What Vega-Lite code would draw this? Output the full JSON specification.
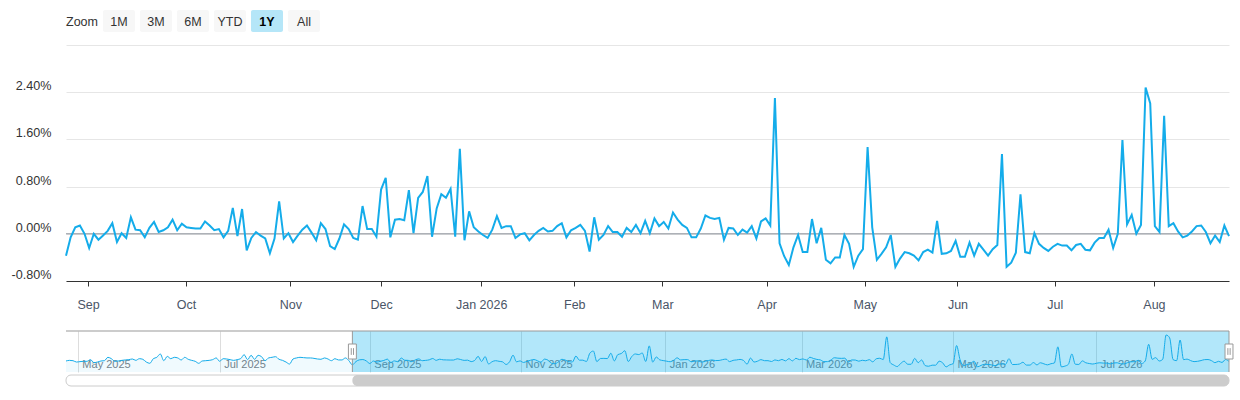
{
  "$schema": "https://vega.github.io/schema/vega-lite/v6.json",
  "padding": {"left": 11, "top": 10, "right": 6, "bottom": 10},
  "config": {
    "font": "Liberation Sans",
    "view": {"stroke": null},
    "axis": {"labelFont": "Liberation Sans", "titleFont": "Liberation Sans"}
  },
  "datasets": {
    "zoomButtons": [
      {"label": "Zoom", "selected": false},
      {"label": "1M", "selected": false},
      {"label": "3M", "selected": false},
      {"label": "6M", "selected": false},
      {"label": "YTD", "selected": false},
      {"label": "1Y", "selected": true},
      {"label": "All", "selected": false}
    ],
    "plotLines": [{"level": 0}],
    "returns": [
      {"day": -82, "ret": 0.0}, {"day": -81, "ret": 0.06}, {"day": -80, "ret": 0.03}, {"day": -79, "ret": -0.1},
      {"day": -78, "ret": -0.06}, {"day": -77, "ret": -0.03}, {"day": -76, "ret": -0.03}, {"day": -75, "ret": 0.13},
      {"day": -74, "ret": -0.16}, {"day": -73, "ret": -0.1}, {"day": -72, "ret": 0.0}, {"day": -71, "ret": 0.03},
      {"day": -70, "ret": 0.35}, {"day": -69, "ret": 0.22}, {"day": -68, "ret": -0.03}, {"day": -67, "ret": 0.0},
      {"day": -66, "ret": 0.06}, {"day": -65, "ret": 0.1}, {"day": -64, "ret": 0.13}, {"day": -63, "ret": 0.19},
      {"day": -62, "ret": 0.06}, {"day": -61, "ret": 0.22}, {"day": -60, "ret": 0.16}, {"day": -59, "ret": -0.1},
      {"day": -58, "ret": -0.22}, {"day": -57, "ret": 0.22}, {"day": -56, "ret": 0.35}, {"day": -55, "ret": 0.67},
      {"day": -54, "ret": 0.03}, {"day": -53, "ret": 0.44}, {"day": -52, "ret": 0.22}, {"day": -51, "ret": 0.35},
      {"day": -50, "ret": 0.29}, {"day": -49, "ret": 0.1}, {"day": -48, "ret": 0.35}, {"day": -47, "ret": 0.16},
      {"day": -46, "ret": 0.06}, {"day": -45, "ret": -0.03}, {"day": -44, "ret": -0.22}, {"day": -43, "ret": 0.0},
      {"day": -42, "ret": 0.03}, {"day": -41, "ret": 0.06}, {"day": -40, "ret": 0.13}, {"day": -39, "ret": 0.29},
      {"day": -38, "ret": -0.03}, {"day": -37, "ret": 0.22}, {"day": -36, "ret": 0.19}, {"day": -35, "ret": 0.13},
      {"day": -34, "ret": 0.06}, {"day": -33, "ret": 0.13}, {"day": -32, "ret": 0.22}, {"day": -31, "ret": 0.6},
      {"day": -30, "ret": 0.13}, {"day": -29, "ret": 0.54}, {"day": -28, "ret": 0.16}, {"day": -27, "ret": 0.54},
      {"day": -26, "ret": 0.41}, {"day": -25, "ret": 0.03}, {"day": -24, "ret": 0.29}, {"day": -23, "ret": 0.35},
      {"day": -22, "ret": 0.41}, {"day": -21, "ret": 0.16}, {"day": -20, "ret": 0.06}, {"day": -19, "ret": -0.1},
      {"day": -18, "ret": -0.29}, {"day": -17, "ret": 0.19}, {"day": -16, "ret": 0.29}, {"day": -15, "ret": 0.35},
      {"day": -14, "ret": 0.32}, {"day": -13, "ret": 0.29}, {"day": -12, "ret": 0.29}, {"day": -11, "ret": 0.25},
      {"day": -10, "ret": 0.19}, {"day": -9, "ret": 0.16}, {"day": -8, "ret": 0.29}, {"day": -7, "ret": 0.19},
      {"day": -6, "ret": 0.03}, {"day": -5, "ret": 0.22}, {"day": -4, "ret": 0.1}, {"day": -3, "ret": 0.1},
      {"day": -2, "ret": 0.29}, {"day": -1, "ret": 0.03},
      {"day": 0, "ret": -0.37}, {"day": 1, "ret": -0.06}, {"day": 2, "ret": 0.11}, {"day": 3, "ret": 0.14},
      {"day": 4, "ret": 0.0}, {"day": 5, "ret": -0.24}, {"day": 6, "ret": 0.0}, {"day": 7, "ret": -0.1},
      {"day": 8, "ret": -0.03}, {"day": 9, "ret": 0.05}, {"day": 10, "ret": 0.18}, {"day": 11, "ret": -0.14},
      {"day": 12, "ret": 0.01}, {"day": 13, "ret": -0.07}, {"day": 14, "ret": 0.28}, {"day": 15, "ret": 0.07},
      {"day": 16, "ret": 0.06}, {"day": 17, "ret": -0.06}, {"day": 18, "ret": 0.1}, {"day": 19, "ret": 0.2},
      {"day": 20, "ret": 0.03}, {"day": 21, "ret": 0.06}, {"day": 22, "ret": 0.11}, {"day": 23, "ret": 0.24},
      {"day": 24, "ret": 0.06}, {"day": 25, "ret": 0.17}, {"day": 26, "ret": 0.11}, {"day": 27, "ret": 0.1},
      {"day": 28, "ret": 0.09}, {"day": 29, "ret": 0.09}, {"day": 30, "ret": 0.21}, {"day": 31, "ret": 0.14},
      {"day": 32, "ret": 0.06}, {"day": 33, "ret": 0.08}, {"day": 34, "ret": -0.06}, {"day": 35, "ret": 0.05},
      {"day": 36, "ret": 0.44}, {"day": 37, "ret": -0.04}, {"day": 38, "ret": 0.42}, {"day": 39, "ret": -0.28},
      {"day": 40, "ret": -0.07}, {"day": 41, "ret": 0.03}, {"day": 42, "ret": -0.03}, {"day": 43, "ret": -0.08},
      {"day": 44, "ret": -0.33}, {"day": 45, "ret": -0.08}, {"day": 46, "ret": 0.55}, {"day": 47, "ret": -0.08},
      {"day": 48, "ret": 0.01}, {"day": 49, "ret": -0.14}, {"day": 50, "ret": -0.03}, {"day": 51, "ret": 0.07},
      {"day": 52, "ret": 0.14}, {"day": 53, "ret": 0.02}, {"day": 54, "ret": -0.11}, {"day": 55, "ret": 0.18},
      {"day": 56, "ret": 0.08}, {"day": 57, "ret": -0.21}, {"day": 58, "ret": -0.26}, {"day": 59, "ret": -0.08},
      {"day": 60, "ret": 0.16}, {"day": 61, "ret": 0.08}, {"day": 62, "ret": -0.07}, {"day": 63, "ret": -0.1},
      {"day": 64, "ret": 0.47}, {"day": 65, "ret": 0.08}, {"day": 66, "ret": 0.08}, {"day": 67, "ret": -0.05},
      {"day": 68, "ret": 0.75}, {"day": 69, "ret": 0.95}, {"day": 70, "ret": -0.06}, {"day": 71, "ret": 0.24},
      {"day": 72, "ret": 0.25}, {"day": 73, "ret": 0.23}, {"day": 74, "ret": 0.74}, {"day": 75, "ret": 0.01},
      {"day": 76, "ret": 0.61}, {"day": 77, "ret": 0.71}, {"day": 78, "ret": 0.98}, {"day": 79, "ret": -0.05},
      {"day": 80, "ret": 0.43}, {"day": 81, "ret": 0.67}, {"day": 82, "ret": 0.61}, {"day": 83, "ret": 0.76},
      {"day": 84, "ret": -0.05}, {"day": 85, "ret": 1.44}, {"day": 86, "ret": -0.11}, {"day": 87, "ret": 0.38},
      {"day": 88, "ret": 0.11}, {"day": 89, "ret": 0.04}, {"day": 90, "ret": -0.02}, {"day": 91, "ret": -0.07},
      {"day": 92, "ret": 0.07}, {"day": 93, "ret": 0.3}, {"day": 94, "ret": 0.1}, {"day": 95, "ret": 0.13},
      {"day": 96, "ret": 0.13}, {"day": 97, "ret": -0.07}, {"day": 98, "ret": -0.01}, {"day": 99, "ret": 0.01},
      {"day": 100, "ret": -0.11}, {"day": 101, "ret": -0.02}, {"day": 102, "ret": 0.05}, {"day": 103, "ret": 0.1},
      {"day": 104, "ret": 0.04}, {"day": 105, "ret": 0.05}, {"day": 106, "ret": 0.13}, {"day": 107, "ret": 0.18},
      {"day": 108, "ret": -0.06}, {"day": 109, "ret": 0.06}, {"day": 110, "ret": 0.1}, {"day": 111, "ret": 0.15},
      {"day": 112, "ret": 0.05}, {"day": 113, "ret": -0.3}, {"day": 114, "ret": 0.28}, {"day": 115, "ret": -0.1},
      {"day": 116, "ret": -0.02}, {"day": 117, "ret": 0.13}, {"day": 118, "ret": 0.03}, {"day": 119, "ret": 0.03},
      {"day": 120, "ret": -0.05}, {"day": 121, "ret": 0.1}, {"day": 122, "ret": 0.03}, {"day": 123, "ret": 0.15},
      {"day": 124, "ret": 0.01}, {"day": 125, "ret": 0.22}, {"day": 126, "ret": 0.01}, {"day": 127, "ret": 0.26},
      {"day": 128, "ret": 0.13}, {"day": 129, "ret": 0.2}, {"day": 130, "ret": 0.09}, {"day": 131, "ret": 0.36},
      {"day": 132, "ret": 0.24}, {"day": 133, "ret": 0.15}, {"day": 134, "ret": 0.1}, {"day": 135, "ret": -0.06},
      {"day": 136, "ret": -0.06}, {"day": 137, "ret": 0.09}, {"day": 138, "ret": 0.31}, {"day": 139, "ret": 0.27},
      {"day": 140, "ret": 0.25}, {"day": 141, "ret": 0.27}, {"day": 142, "ret": -0.1}, {"day": 143, "ret": 0.1},
      {"day": 144, "ret": 0.09}, {"day": 145, "ret": -0.02}, {"day": 146, "ret": 0.07}, {"day": 147, "ret": 0.02},
      {"day": 148, "ret": 0.13}, {"day": 149, "ret": -0.08}, {"day": 150, "ret": 0.21}, {"day": 151, "ret": 0.26},
      {"day": 152, "ret": 0.14}, {"day": 153, "ret": 2.3}, {"day": 154, "ret": -0.16}, {"day": 155, "ret": -0.38},
      {"day": 156, "ret": -0.53}, {"day": 157, "ret": -0.23}, {"day": 158, "ret": -0.02}, {"day": 159, "ret": -0.31},
      {"day": 160, "ret": -0.31}, {"day": 161, "ret": 0.25}, {"day": 162, "ret": -0.16}, {"day": 163, "ret": 0.1},
      {"day": 164, "ret": -0.44}, {"day": 165, "ret": -0.5}, {"day": 166, "ret": -0.4}, {"day": 167, "ret": -0.4},
      {"day": 168, "ret": -0.02}, {"day": 169, "ret": -0.17}, {"day": 170, "ret": -0.56}, {"day": 171, "ret": -0.37},
      {"day": 172, "ret": -0.26}, {"day": 173, "ret": 1.47}, {"day": 174, "ret": 0.11}, {"day": 175, "ret": -0.44},
      {"day": 176, "ret": -0.34}, {"day": 177, "ret": -0.23}, {"day": 178, "ret": -0.02}, {"day": 179, "ret": -0.56},
      {"day": 180, "ret": -0.42}, {"day": 181, "ret": -0.31}, {"day": 182, "ret": -0.33}, {"day": 183, "ret": -0.37},
      {"day": 184, "ret": -0.45}, {"day": 185, "ret": -0.31}, {"day": 186, "ret": -0.27}, {"day": 187, "ret": -0.32},
      {"day": 188, "ret": 0.22}, {"day": 189, "ret": -0.34}, {"day": 190, "ret": -0.33}, {"day": 191, "ret": -0.29},
      {"day": 192, "ret": -0.12}, {"day": 193, "ret": -0.39}, {"day": 194, "ret": -0.39}, {"day": 195, "ret": -0.15},
      {"day": 196, "ret": -0.37}, {"day": 197, "ret": -0.17}, {"day": 198, "ret": -0.27}, {"day": 199, "ret": -0.37},
      {"day": 200, "ret": -0.26}, {"day": 201, "ret": -0.19}, {"day": 202, "ret": 1.35}, {"day": 203, "ret": -0.56},
      {"day": 204, "ret": -0.49}, {"day": 205, "ret": -0.32}, {"day": 206, "ret": 0.67}, {"day": 207, "ret": -0.31},
      {"day": 208, "ret": -0.33}, {"day": 209, "ret": 0.01}, {"day": 210, "ret": -0.17}, {"day": 211, "ret": -0.24},
      {"day": 212, "ret": -0.29}, {"day": 213, "ret": -0.22}, {"day": 214, "ret": -0.17}, {"day": 215, "ret": -0.2},
      {"day": 216, "ret": -0.2}, {"day": 217, "ret": -0.28}, {"day": 218, "ret": -0.19}, {"day": 219, "ret": -0.17},
      {"day": 220, "ret": -0.27}, {"day": 221, "ret": -0.28}, {"day": 222, "ret": -0.15}, {"day": 223, "ret": -0.07},
      {"day": 224, "ret": -0.07}, {"day": 225, "ret": 0.07}, {"day": 226, "ret": -0.24}, {"day": 227, "ret": 0.0},
      {"day": 228, "ret": 1.59}, {"day": 229, "ret": 0.16}, {"day": 230, "ret": 0.32}, {"day": 231, "ret": 0.0},
      {"day": 232, "ret": 0.15}, {"day": 233, "ret": 2.48}, {"day": 234, "ret": 2.21}, {"day": 235, "ret": 0.13},
      {"day": 236, "ret": 0.03}, {"day": 237, "ret": 2.0}, {"day": 238, "ret": 0.13}, {"day": 239, "ret": 0.18},
      {"day": 240, "ret": 0.04}, {"day": 241, "ret": -0.06}, {"day": 242, "ret": -0.03}, {"day": 243, "ret": 0.04},
      {"day": 244, "ret": 0.13}, {"day": 245, "ret": 0.14}, {"day": 246, "ret": 0.03}, {"day": 247, "ret": -0.16},
      {"day": 248, "ret": -0.03}, {"day": 249, "ret": -0.14}, {"day": 250, "ret": 0.14}, {"day": 251, "ret": -0.04}
    ]
  },
  "bounds": "flush",
  "spacing": 13,
  "vconcat": [
    {
      "width": 254,
      "height": 22,
      "data": {"name": "zoomButtons"},
      "encoding": {
        "x": {
          "field": "label",
          "type": "nominal",
          "sort": null,
          "scale": {"domain": ["Zoom", "1M", "3M", "6M", "YTD", "1Y", "All"], "paddingInner": 0.135, "paddingOuter": 0},
          "axis": null
        }
      },
      "layer": [
        {
          "transform": [{"filter": "datum.label !== 'Zoom'"}],
          "mark": {"type": "rect", "cornerRadius": 2},
          "encoding": {
            "color": {"condition": {"test": "datum.selected", "value": "#b5e6f8"}, "value": "#f7f7f7"}
          }
        },
        {
          "transform": [{"filter": "!datum.selected"}],
          "mark": {"type": "text", "fontSize": 12.5, "color": "#333333", "baseline": "middle", "dy": 1},
          "encoding": {"text": {"field": "label"}}
        },
        {
          "transform": [{"filter": "datum.selected"}],
          "mark": {"type": "text", "fontSize": 12.5, "fontWeight": "bold", "color": "#000000", "baseline": "middle", "dy": 1},
          "encoding": {"text": {"field": "label"}}
        }
      ]
    },
    {
      "bounds": "flush",
      "spacing": 50,
      "vconcat": [
        {
          "width": 1163,
          "height": 236,
          "layer": [
            {
              "data": {"name": "plotLines"},
              "mark": {"type": "rule", "color": "#8a9199", "strokeWidth": 1},
              "encoding": {"y": {"field": "level", "type": "quantitative"}}
            },
            {
              "data": {"name": "returns"},
              "transform": [{"filter": "datum.day >= 0"}],
              "mark": {"type": "line", "color": "#14acea", "strokeWidth": 2},
              "encoding": {
                "x": {
                  "field": "day",
                  "type": "quantitative",
                  "scale": {"domain": [0, 251], "nice": false, "zero": false},
                  "axis": {
                    "title": null,
                    "grid": false,
                    "values": [4.75, 25.9, 48.4, 68, 89.6, 109.7, 128.7, 151.2, 172.4, 192.4, 213.4, 234.8],
                    "labelExpr": "['Sep','Oct','Nov','Dec','Jan 2026','Feb','Mar','Apr','May','Jun','Jul','Aug'][indexof([4.75, 25.9, 48.4, 68, 89.6, 109.7, 128.7, 151.2, 172.4, 192.4, 213.4, 234.8], datum.value)]",
                    "domainColor": "#333333",
                    "tickColor": "#333333",
                    "tickSize": 5,
                    "labelPadding": 12,
                    "labelFontSize": 12.5,
                    "labelColor": "#4a5567",
                    "labelFlush": false,
                    "labelOverlap": false
                  }
                },
                "y": {
                  "field": "ret",
                  "type": "quantitative",
                  "scale": {"domain": [-0.8, 3.2], "nice": false, "zero": false},
                  "axis": {
                    "title": null,
                    "domain": false,
                    "ticks": false,
                    "tickSize": 0,
                    "values": [-0.8, 0, 0.8, 1.6, 2.4, 3.2],
                    "labelExpr": "datum.value > 3 ? '' : (datum.value < 0 ? '-' : '') + format(abs(datum.value), '.2f') + '%'",
                    "gridColor": "#e6e6e6",
                    "labelPadding": 15,
                    "labelOffset": -6.5,
                    "labelFontSize": 12.6,
                    "labelColor": "#333333"
                  }
                }
              }
            }
          ]
        },
        {
          "bounds": "flush",
          "spacing": 3,
          "vconcat": [
            {
              "width": 1163,
              "height": 41,
              "layer": [
                {
                  "data": {"name": "returns"},
                  "transform": [
                    {"filter": "datum.day >= 0"},
                    {"aggregate": [{"op": "min", "field": "day", "as": "lo"}, {"op": "max", "field": "day", "as": "hi"}]}
                  ],
                  "mark": {"type": "rect", "color": "#00aeef", "opacity": 0.3},
                  "encoding": {
                    "x": {
                      "field": "lo",
                      "type": "quantitative",
                      "scale": {"domain": [-82, 251], "nice": false, "zero": false},
                      "axis": {
                        "title": null,
                        "domain": false,
                        "ticks": false,
                        "tickSize": 0,
                        "grid": true,
                        "gridColor": "#dddddd",
                        "values": [-78.6, -38, 5, 48.3, 89.6, 128.6, 172, 213],
                        "labelExpr": "['May 2025','Jul 2025','Sep 2025','Nov 2025','Jan 2026','Mar 2026','May 2026','Jul 2026'][indexof([-78.6, -38, 5, 48.3, 89.6, 128.6, 172, 213], datum.value)]",
                        "labelAlign": "left",
                        "labelBaseline": "alphabetic",
                        "labelPadding": -4.5,
                        "labelOffset": 4,
                        "labelFontSize": 11,
                        "labelColor": "#7a7f87",
                        "labelFlush": false,
                        "labelOverlap": false,
                        "labelBound": false
                      }
                    },
                    "x2": {"field": "hi"}
                  }
                },
                {
                  "data": {"name": "returns"},
                  "mark": {"type": "area", "interpolate": "monotone", "color": "#00aeef", "opacity": 0.06},
                  "encoding": {
                    "x": {"field": "day", "type": "quantitative"},
                    "y": {"field": "ret", "type": "quantitative", "scale": {"domain": [-1.05, 2.86], "nice": false, "zero": false}, "axis": null},
                    "y2": {"datum": -1.05}
                  }
                },
                {
                  "data": {"name": "returns"},
                  "mark": {"type": "line", "interpolate": "monotone", "color": "#14acea", "strokeWidth": 1},
                  "encoding": {
                    "x": {"field": "day", "type": "quantitative"},
                    "y": {"field": "ret", "type": "quantitative"}
                  }
                },
                {
                  "data": {"name": "returns"},
                  "transform": [
                    {"filter": "datum.day >= 0"},
                    {"aggregate": [{"op": "min", "field": "day", "as": "lo"}, {"op": "max", "field": "day", "as": "hi"}]}
                  ],
                  "mark": {"type": "rule", "color": "#999999", "strokeWidth": 1},
                  "encoding": {"y": {"datum": 2.86}}
                },
                {
                  "data": {"name": "returns"},
                  "transform": [
                    {"filter": "datum.day >= 0"},
                    {"aggregate": [{"op": "min", "field": "day", "as": "lo"}, {"op": "max", "field": "day", "as": "hi"}]},
                    {"fold": ["lo", "hi"], "as": ["edge", "day"]}
                  ],
                  "layer": [
                    {
                      "mark": {"type": "rule", "color": "#999999", "strokeWidth": 1},
                      "encoding": {"x": {"field": "day", "type": "quantitative"}}
                    },
                    {
                      "mark": {
                        "type": "point",
                        "shape": "M-0.53,-1H0.53V1H-0.53Z M-0.15,-0.45V0.45 M0.15,-0.45V0.45",
                        "size": 225,
                        "filled": false,
                        "fill": "#ffffff",
                        "fillOpacity": 1,
                        "stroke": "#999999",
                        "strokeWidth": 1,
                        "opacity": 1
                      },
                      "encoding": {"x": {"field": "day", "type": "quantitative"}}
                    }
                  ]
                }
              ]
            },
            {
              "width": 1163,
              "height": 11,
              "data": {"name": "returns"},
              "layer": [
                {
                  "transform": [
                    {"aggregate": [{"op": "min", "field": "day", "as": "lo"}, {"op": "max", "field": "day", "as": "hi"}]}
                  ],
                  "mark": {"type": "rect", "fill": "#ffffff", "stroke": "#cccccc", "strokeWidth": 1, "cornerRadius": 5},
                  "encoding": {
                    "x": {"field": "lo", "type": "quantitative", "scale": {"domain": [-82, 251], "nice": false, "zero": false}, "axis": null},
                    "x2": {"field": "hi"}
                  }
                },
                {
                  "transform": [
                    {"filter": "datum.day >= 0"},
                    {"aggregate": [{"op": "min", "field": "day", "as": "lo"}, {"op": "max", "field": "day", "as": "hi"}]}
                  ],
                  "mark": {"type": "rect", "fill": "#cccccc", "cornerRadius": 5},
                  "encoding": {
                    "x": {"field": "lo", "type": "quantitative"},
                    "x2": {"field": "hi"}
                  }
                }
              ]
            }
          ]
        }
      ]
    }
  ]
}
